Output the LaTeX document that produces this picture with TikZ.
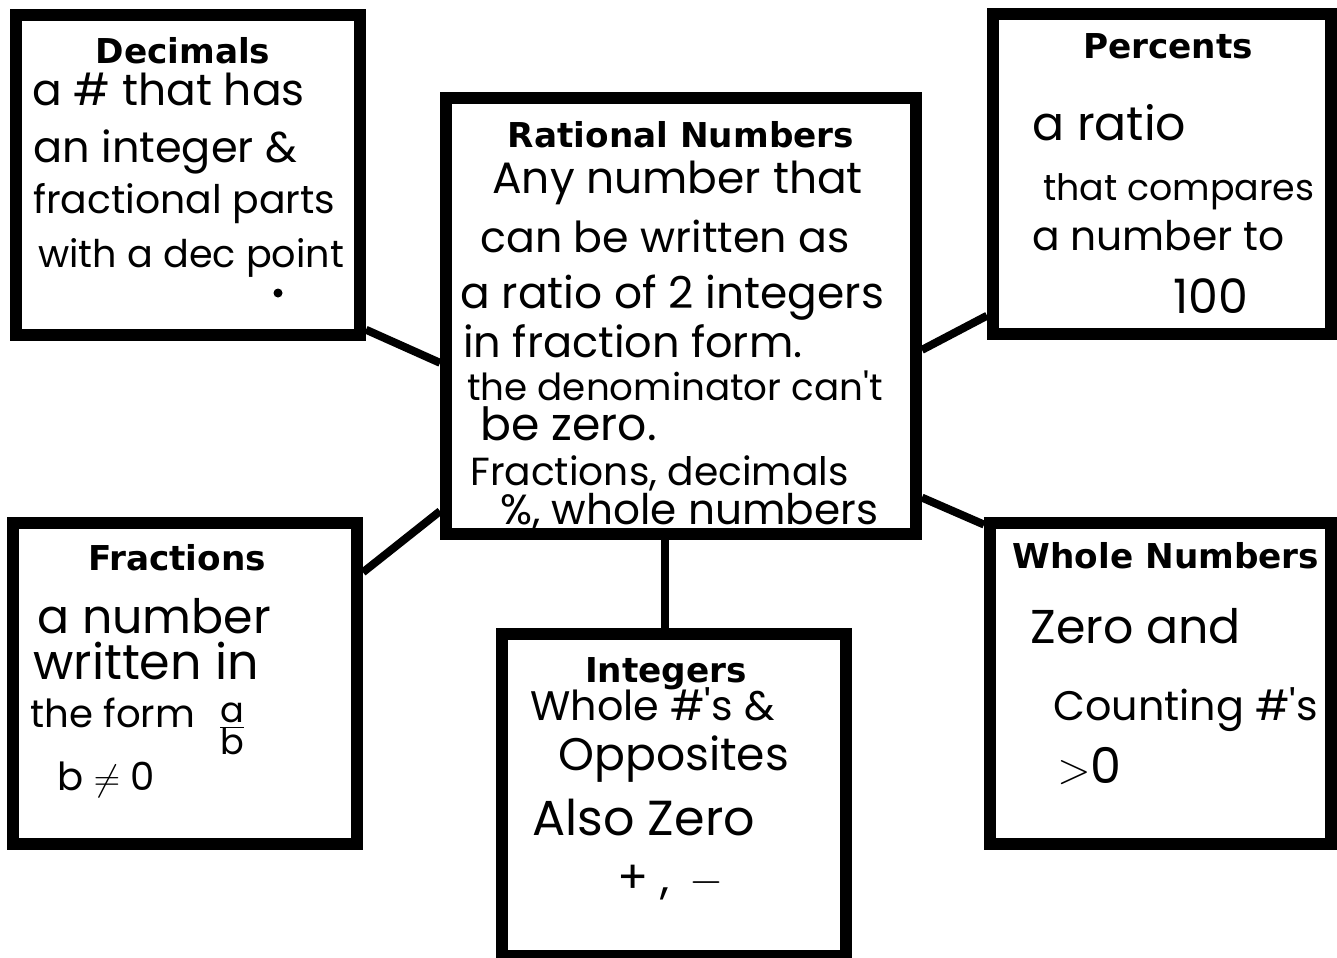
\documentclass[tikz,border=0pt]{standalone}
\usepackage{fontspec}
\newfontfamily\headfont{DejaVu Sans}
\newfontfamily\handfont{Poppins}

\begin{document}
\begin{tikzpicture}[
    x=0.02cm, y=-0.02cm,
    card/.style={draw, fill=white, line width=0.24cm},
    title/.style={font=\headfont\bfseries\fontsize{19.5}{22}\selectfont, anchor=base, inner sep=0pt},
    hand/.style={font=\handfont\fontsize{#1}{24}\selectfont, anchor=base west, inner sep=0pt},
    hand/.default=24,
    link/.style={line width=0.16cm}
  ]
    \clip (0,0) rectangle (1337,957);

    % Boxes (placed by centre)
    \node[card, minimum width=9.40cm, minimum height=8.72cm] (rat) at (681,316) {};
    \node[card, minimum width=6.88cm, minimum height=6.40cm] (dec) at (188,175) {};
    \node[card, minimum width=6.76cm, minimum height=6.40cm] (pct) at (1162,174) {};
    \node[card, minimum width=6.88cm, minimum height=6.42cm] (fra) at (185,683.5) {};
    \node[card, minimum width=6.82cm, minimum height=6.42cm] (who) at (1160.5,683.5) {};
    \node[card, minimum width=6.88cm, minimum height=6.44cm] (int) at (674,795) {};

    % Links to the centre box
    \draw[link] (dec.-41) -- (rat.191.5);
    \draw[link] (pct.219.2) -- (rat.-8.2);
    \draw[link] (fra.32.7) -- (rat.219.2);
    \draw[link] (who.138.6) -- (rat.-37.6);
    \draw[link] ([xshift=-0.18cm]int.north) -- ([xshift=-0.18cm]int.north |- rat.south);

    % Titles
    \node[title] (rat-t) at (681,147) {Rational Numbers};
    \node[title] (dec-t) at (183,63) {Decimals};
    \node[title] (pct-t) at (1168,58) {Percents};
    \node[title] (fra-t) at (177,570) {Fractions};
    \node[title] (who-t) at (1166,568) {Whole Numbers};
    \node[title] (int-t) at (666,682) {Integers};

    % Rational numbers text (name/x/y/size/text)
    \foreach \n/\x/\y/\s/\t in {rat1/492/193/25/{Any number that},
        rat2/480/252/24.3/{can be written as},
        rat3/460/308/25/{a ratio of 2 integers},
        rat4/463/357/24.5/{in fraction form.},
        rat5/467/400/21.2/{the denominator can't},
        rat6/480/440/26/{be zero.},
        rat7/470/485/22.3/{Fractions, decimals},
        rat8/500/524/24/{\%, whole numbers}}
      \node[hand=\s] (\n) at (\x,\y) {\t};

    % Decimals text
    \foreach \n/\x/\y/\s/\t in {dec1/32/105/25/{a \# that has},
        dec2/33/162/24.5/{an integer \&},
        dec3/33/213/22.4/{fractional parts},
        dec4/38/267/21.7/{with a dec point}}
      \node[hand=\s] (\n) at (\x,\y) {\t};
    \fill (278,293) circle[radius=4.5];

    % Percents text
    \foreach \n/\x/\y/\s/\t in {pct1/1032/140/27/{a ratio},
        pct2/1043/200/20.7/{that compares},
        pct3/1032/250/23.2/{a number to},
        pct4/1173/313/27/{100}}
      \node[hand=\s] (\n) at (\x,\y) {\t};

    % Fractions text
    \foreach \n/\x/\y/\s/\t in {fra1/37/633/27/{a number},
        fra2/33/679/28/{written in},
        fra3/30/727/22/{the form},
        fra4/57/790/22/{b $\neq$ 0}}
      \node[hand=\s] (\n) at (\x,\y) {\t};
    \node[hand=20, anchor=west] (fra5) at (218,729) {$\frac{\hbox{a}}{\hbox{b}}$};

    % Whole numbers text
    \foreach \n/\x/\y/\s/\t in {who1/1030/643/27/{Zero and},
        who2/1053/720/23.5/{Counting \#'s},
        who3/1057/783/28/{$>$0}}
      \node[hand=\s] (\n) at (\x,\y) {\t};

    % Integers text
    \foreach \n/\x/\y/\s/\t in {int1/530/720/23.5/{Whole \#'s \&},
        int2/558/770/26/{Opposites},
        int3/532/835/28/{Also Zero},
        int4/617/893/26/{+ , \,$-$}}
      \node[hand=\s] (\n) at (\x,\y) {\t};
  \end{tikzpicture}
\end{document}
